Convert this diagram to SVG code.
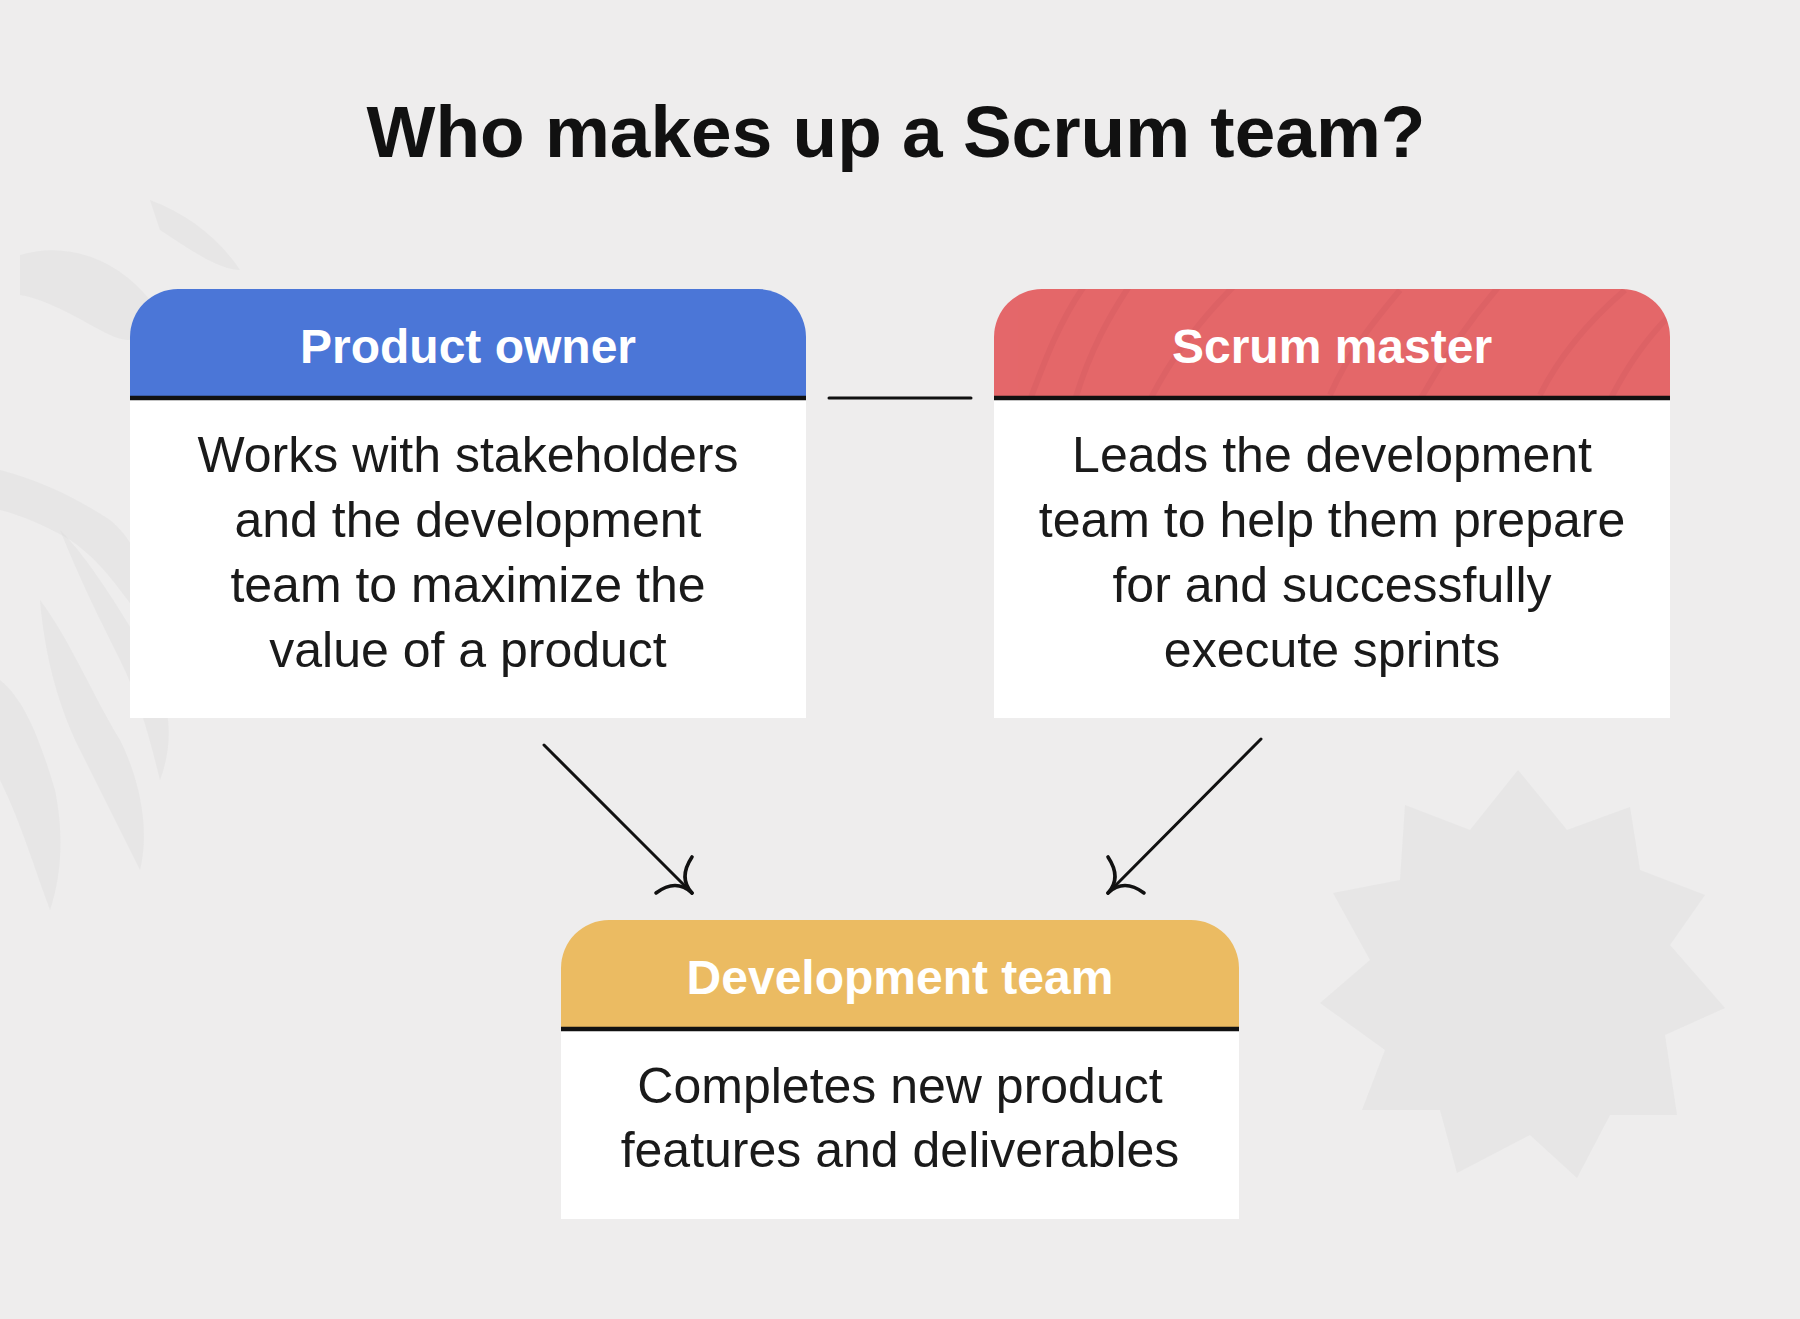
<svg xmlns="http://www.w3.org/2000/svg" width="1800" height="1319" viewBox="0 0 1800 1319">
  <defs>
    <style>
      .title { font-family: "Liberation Sans", Arial, sans-serif; font-weight: bold; font-size: 73px; fill: #111111; text-anchor: middle; }
      .head { font-family: "Liberation Sans", Arial, sans-serif; font-weight: bold; font-size: 48px; fill: #ffffff; text-anchor: middle; }
      .body { font-family: "Liberation Sans", Arial, sans-serif; font-size: 50px; fill: #1a1a1a; text-anchor: middle; }
      .card { fill: #ffffff; }
      .divider { stroke: #111111; stroke-width: 4.5; }
      .conn { stroke: #111111; stroke-width: 3; fill: none; stroke-linecap: round; }
      .barb { stroke: #111111; stroke-width: 3.6; fill: none; stroke-linecap: round; }
      .deco { fill: #d6d6d6; opacity: 0.3; }
    </style>
    <clipPath id="smClip">
      <path d="M994,397 V337 A48,48 0 0 1 1042,289 H1622 A48,48 0 0 1 1670,337 V397 Z"/>
    </clipPath>
  </defs>

  <rect x="0" y="0" width="1800" height="1319" fill="#eeeded"/>

  <!-- background decoration -->
  <g id="background-decoration">
    <path class="deco" d="M20,255 C70,240 120,262 150,300 C170,330 140,350 110,335 C80,320 50,300 20,295 Z"/>
    <path class="deco" d="M0,470 C40,480 80,500 110,520 C140,545 150,580 135,610 C120,590 100,560 70,540 C45,525 20,515 0,510 Z"/>
    <path class="deco" d="M60,530 C90,560 120,610 150,660 C170,700 175,740 160,780 C150,740 140,700 120,660 C100,620 80,580 60,530 Z"/>
    <path class="deco" d="M283,505 C320,500 370,520 400,560 C410,590 390,610 365,600 C340,585 310,560 283,540 Z"/>
    <path class="deco" d="M150,200 C190,215 220,240 240,270 C220,270 190,250 160,230 Z"/>
    <path class="deco" d="M40,600 C70,640 90,690 120,740 C140,780 150,830 140,870 C120,830 100,790 80,750 C60,710 45,660 40,600 Z"/>
    <path class="deco" d="M0,680 C25,700 40,740 55,790 C65,840 60,880 50,910 C35,870 20,820 0,780 Z"/>
    <polygon class="deco" opacity="0.4" points="1518,770 1567,830 1630,807 1640,870 1705,895 1670,945 1725,1008 1665,1035 1677,1115 1610,1115 1577,1178 1530,1135 1457,1173 1440,1110 1362,1110 1385,1050 1320,1003 1370,960 1333,893 1400,880 1405,805 1470,830"/>
  </g>

  <!-- connectors -->
  <g id="connectors">
    <line class="conn" x1="829" y1="398" x2="971" y2="398"/>
    <line class="conn" x1="544" y1="745" x2="691" y2="892"/>
    <path class="barb" d="M692,857 Q678,878 692,893"/>
    <path class="barb" d="M656,893 Q676,878 692,893"/>
    <line class="conn" x1="1261" y1="739" x2="1109" y2="892"/>
    <path class="barb" d="M1108,857 Q1122,878 1108,893"/>
    <path class="barb" d="M1144,893 Q1124,878 1108,893"/>
  </g>

  <!-- title -->
  <g id="title">
    <text class="title" x="896" y="157">Who makes up a Scrum team?</text>
  </g>

  <!-- Product owner -->
  <g id="node-product-owner">
    <rect class="card" x="130" y="397" width="676" height="321"/>
    <path d="M130,397 V337 A48,48 0 0 1 178,289 H758 A48,48 0 0 1 806,337 V397 Z" fill="#4b76d7"/>
    <line class="divider" x1="130" y1="398" x2="806" y2="398"/>
    <text class="head" x="468" y="363">Product owner</text>
    <text class="body" x="468" y="472">Works with stakeholders</text>
    <text class="body" x="468" y="537">and the development</text>
    <text class="body" x="468" y="602">team to maximize the</text>
    <text class="body" x="468" y="667">value of a product</text>
  </g>

  <!-- Scrum master -->
  <g id="node-scrum-master">
    <rect class="card" x="994" y="397" width="676" height="321"/>
    <path d="M994,397 V337 A48,48 0 0 1 1042,289 H1622 A48,48 0 0 1 1670,337 V397 Z" fill="#e4676a"/>
    <g clip-path="url(#smClip)" stroke="#c85458" stroke-width="6" fill="none" opacity="0.25">
      <path d="M1030,400 C1045,360 1060,320 1085,285"/>
      <path d="M1075,400 C1090,350 1110,315 1130,285"/>
      <path d="M1150,400 C1170,360 1200,320 1235,285"/>
      <path d="M1330,395 C1350,350 1375,320 1400,290"/>
      <path d="M1420,400 C1445,355 1470,320 1500,285"/>
      <path d="M1540,395 C1560,355 1590,320 1625,290"/>
      <path d="M1610,400 C1625,370 1645,340 1670,315"/>
    </g>
    <line class="divider" x1="994" y1="398" x2="1670" y2="398"/>
    <text class="head" x="1332" y="363">Scrum master</text>
    <text class="body" x="1332" y="472">Leads the development</text>
    <text class="body" x="1332" y="537">team to help them prepare</text>
    <text class="body" x="1332" y="602">for and successfully</text>
    <text class="body" x="1332" y="667">execute sprints</text>
  </g>

  <!-- Development team -->
  <g id="node-development-team">
    <rect class="card" x="561" y="1028" width="678" height="191"/>
    <path d="M561,1028 V968 A48,48 0 0 1 609,920 H1191 A48,48 0 0 1 1239,968 V1028 Z" fill="#ebbb62"/>
    <line class="divider" x1="561" y1="1029" x2="1239" y2="1029"/>
    <text class="head" x="900" y="994">Development team</text>
    <text class="body" x="900" y="1103">Completes new product</text>
    <text class="body" x="900" y="1167">features and deliverables</text>
  </g>
</svg>
